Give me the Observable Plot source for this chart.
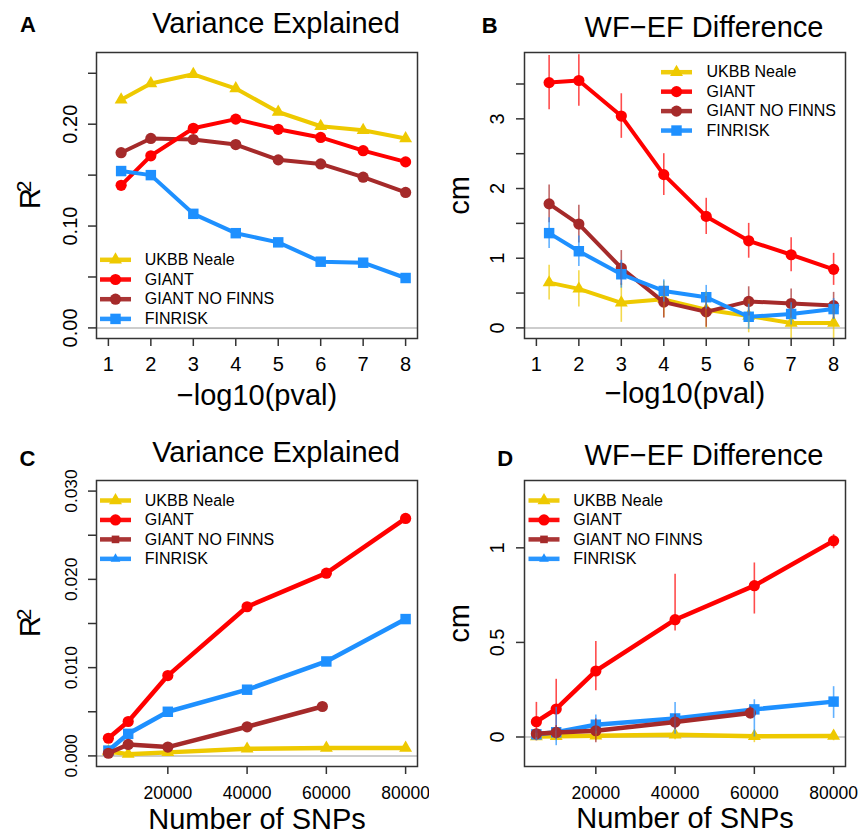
<!DOCTYPE html>
<html>
<head>
<meta charset="utf-8">
<script src="https://cdn.jsdelivr.net/npm/d3@7"></script>
<script src="https://cdn.jsdelivr.net/npm/@observablehq/plot@0.6"></script>
<style>
html, body { margin: 0; padding: 0; background: #fff; }
#fig { position: relative; width: 858px; height: 836px; font-family: "Liberation Sans", Arial, sans-serif; }
#fig > div { position: absolute; }
</style>
</head>
<body>
<div id="fig"></div>
<script>
// ---------- series ----------
const seriesNames = ["UKBB Neale", "GIANT", "GIANT NO FINNS", "FINRISK"];
const seriesColors = ["#EEC900", "#FF0000", "#A52A2A", "#1E90FF"];

// ---------- panels A & B : x = -log10(pval) ----------
const pvalCutoffs = [1.3, 2, 3, 4, 5, 6, 7, 8];
const pvalTicks = [1, 2, 3, 4, 5, 6, 7, 8];

// A: variance explained (R2)
const aUkbb      = [0.224, 0.240, 0.249, 0.235, 0.212, 0.198, 0.194, 0.186];
const aGiant     = [0.140, 0.169, 0.196, 0.205, 0.195, 0.187, 0.174, 0.163];
const aNoFinns   = [0.172, 0.186, 0.185, 0.180, 0.165, 0.161, 0.148, 0.133];
const aFinrisk   = [0.154, 0.150, 0.112, 0.093, 0.084, 0.065, 0.064, 0.049];

// B: WF-EF difference (cm) and standard errors
const bUkbb      = [0.65, 0.56, 0.36, 0.41, 0.26, 0.17, 0.07, 0.07];
const bUkbbSe    = [0.25, 0.26, 0.28, 0.26, 0.26, 0.24, 0.26, 0.26];
const bGiant     = [3.52, 3.55, 3.04, 2.20, 1.60, 1.25, 1.05, 0.84];
const bGiantSe   = [0.39, 0.37, 0.32, 0.30, 0.26, 0.25, 0.245, 0.23];
const bNoFinns   = [1.78, 1.49, 0.86, 0.37, 0.23, 0.38, 0.35, 0.32];
const bNoFinnsSe = [0.27, 0.27, 0.25, 0.23, 0.22, 0.21, 0.21, 0.19];
const bFinrisk   = [1.36, 1.10, 0.77, 0.53, 0.44, 0.16, 0.20, 0.27];
const bFinriskSe = [0.22, 0.22, 0.20, 0.16, 0.17, 0.18, 0.16, 0.15];

// ---------- panels C & D : x = number of SNPs ----------
const snpCounts = [5000, 10000, 20000, 40000, 60000, 80000];
const snpCountsNoFinns = [5000, 10000, 20000, 40000, 59000];
const snpTicks = [20000, 40000, 60000, 80000];

// C: variance explained (R2)
const cUkbb    = [0.0005, 0.0002, 0.0004, 0.0008, 0.0009, 0.0009];
const cGiant   = [0.0020, 0.0039, 0.0091, 0.0169, 0.0207, 0.0269];
const cNoFinns = [0.0003, 0.0013, 0.0010, 0.0033, 0.0056];
const cFinrisk = [0.0006, 0.0025, 0.0050, 0.0075, 0.0107, 0.0155];

// D: WF-EF difference (cm) with interval ends
const dUkbb      = [0.003, 0.004, 0.006, 0.012, 0.004, 0.005];
const dUkbbLo    = [-0.015, -0.02, -0.02, -0.015, -0.03, -0.02];
const dUkbbHi    = [0.02, 0.03, 0.03, 0.04, 0.03, 0.03];
const dGiant     = [0.081, 0.148, 0.349, 0.620, 0.800, 1.037];
const dGiantLo   = [-0.02, -0.01, 0.245, 0.56, 0.65, 0.995];
const dGiantHi   = [0.183, 0.305, 0.505, 0.86, 0.92, 1.07];
const dNoFinns   = [0.017, 0.024, 0.033, 0.079, 0.127];
const dNoFinnsLo = [-0.005, -0.01, -0.03, 0.04, 0.095];
const dNoFinnsHi = [0.04, 0.06, 0.095, 0.12, 0.16];
const dFinrisk   = [0.014, 0.025, 0.065, 0.098, 0.146, 0.187];
const dFinriskLo = [-0.02, -0.046, 0.015, 0.015, 0.0, 0.098];
const dFinriskHi = [0.04, 0.157, 0.116, 0.183, 0.197, 0.266];

// ---------- helpers ----------
function rows(si, xs, ys, lo, hi) {
  return xs.map((x, i) => ({ series: seriesNames[si], si, x, y: ys[i],
    lo: lo ? lo[i] : null, hi: hi ? hi[i] : null }));
}
function rowsSe(si, xs, ys, se) {
  return xs.map((x, i) => ({ series: seriesNames[si], si, x, y: ys[i], lo: ys[i] - se[i], hi: ys[i] + se[i] }));
}

const FONT = "Liberation Sans, Arial, Helvetica, sans-serif";

function legendBar(w, h) {
  return { draw(ctx) { ctx.rect(-w / 2, -h / 2, w, h); } };
}

function panel(cfg) {
  const m = cfg.margin;
  const marks = [];
  // zero reference line
  marks.push(Plot.ruleY([0], { stroke: "#bdbdbd", strokeWidth: 1.5 }));
  // series lines and points
  for (const si of cfg.order) {
    const d = cfg.data.filter(r => r.si === si);
    marks.push(Plot.line(d, { x: "x", y: "y", stroke: seriesColors[si], strokeWidth: cfg.lineWidth,
      strokeLinecap: "round", strokeLinejoin: "round" }));
    marks.push(Plot.dot(d, { x: "x", y: "y", symbol: cfg.symbols[si], r: cfg.radii[si], fill: seriesColors[si] }));
  }
  // error bars
  if (cfg.errors) {
    for (const si of cfg.order) {
      const d = cfg.data.filter(r => r.si === si);
      marks.push(Plot.ruleX(d, { x: "x", y1: "lo", y2: "hi", stroke: seriesColors[si], strokeOpacity: 0.7,
        strokeWidth: 1.6, clip: true }));
    }
  }
  // frame
  marks.push(Plot.frame({ stroke: "#333", strokeWidth: 1.5 }));
  // axes (tick lines)
  marks.push(Plot.axisX({ ticks: cfg.xTicks, tickSize: 8, tickFormat: () => "", label: null, stroke: "#333", strokeWidth: 1.5 }));
  marks.push(Plot.axisY({ ticks: cfg.yTicks, tickSize: 8, tickFormat: () => "", label: null, stroke: "#333", strokeWidth: 1.5 }));
  // tick labels
  marks.push(Plot.text(cfg.xTicks, { x: d => d, frameAnchor: "bottom", dy: 32, lineAnchor: "bottom",
    text: d => String(d), fontSize: cfg.xTickFont, fill: "#000" }));
  marks.push(Plot.text(cfg.yLabels, { y: d => d, frameAnchor: "left", dx: cfg.yTickDx, rotate: -90,
    lineAnchor: "bottom", textAnchor: "middle", text: cfg.yFmt, fontSize: cfg.yTickFont, fill: "#000" }));
  // axis titles
  marks.push(Plot.text([cfg.xTitle], { frameAnchor: "bottom", dy: cfg.xTitleDy, lineAnchor: "bottom",
    text: d => d, fontSize: 29, fill: "#000" }));
  if (cfg.yTitleSup) {
    marks.push(Plot.text([cfg.yTitle], { frameAnchor: "left", dx: cfg.yTitleDx, dy: 3, rotate: -90, lineAnchor: "bottom",
      textAnchor: "middle", text: d => d, fontSize: 29, fill: "#000" }));
    marks.push(Plot.text([cfg.yTitleSup], { frameAnchor: "left", dx: cfg.yTitleDx - 9, dy: -9, rotate: -90, lineAnchor: "bottom",
      textAnchor: "middle", text: d => d, fontSize: 21, fill: "#000" }));
  } else {
    marks.push(Plot.text([cfg.yTitle], { frameAnchor: "left", dx: cfg.yTitleDx, rotate: -90, lineAnchor: "bottom",
      textAnchor: "middle", text: d => d, fontSize: 29, fill: "#000" }));
  }
  // title and panel letter
  marks.push(Plot.text([cfg.title], { frameAnchor: "top-left", dx: cfg.titleDx, dy: cfg.titleDy,
    lineAnchor: "bottom", textAnchor: "middle", text: d => d, fontSize: 29, fill: "#000" }));
  marks.push(Plot.text([cfg.letter], { frameAnchor: "top-left", dx: cfg.letterDx, dy: cfg.letterDy,
    lineAnchor: "bottom", textAnchor: "middle", text: d => d, fontSize: 22, fontWeight: "bold", fill: "#000" }));
  // legend
  const L = cfg.legend;
  seriesNames.forEach((name, i) => {
    const dy = L.dy + i * L.step;
    marks.push(Plot.dot([name], { frameAnchor: "top-left", dx: L.dx, dy, symbol: legendBar(31, 4.5),
      fill: seriesColors[i], fillOpacity: 0.95 }));
    marks.push(Plot.dot([name], { frameAnchor: "top-left", dx: L.dx, dy, symbol: L.symbols[i], r: L.radii[i],
      fill: seriesColors[i] }));
    marks.push(Plot.text([name], { frameAnchor: "top-left", dx: L.textDx, dy, textAnchor: "start",
      lineAnchor: "middle", text: d => d, fontSize: 16, fill: "#000" }));
  });

  const chart = Plot.plot({
    width: cfg.width, height: cfg.height,
    marginTop: m.top, marginRight: m.right, marginBottom: m.bottom, marginLeft: m.left,
    x: { type: "linear", domain: cfg.xDomain },
    y: { type: "linear", domain: cfg.yDomain },
    style: { fontFamily: FONT, background: "white", overflow: "visible" },
    marks
  });
  const holder = document.createElement("div");
  holder.style.left = cfg.left + "px";
  holder.style.top = cfg.top + "px";
  holder.appendChild(chart);
  document.getElementById("fig").appendChild(holder);
}

const symAB = ["triangle", "circle", "circle", "square"];
const radAB = [4.8, 5.6, 5.6, 5.9];
const legendSymCD = ["triangle", "circle", "square", "triangle"];
const legendRadCD = [4.8, 5.6, 4.3, 3.6];

// A
panel({
  left: 0, top: 0, width: 429, height: 418,
  margin: { top: 52, right: 12, bottom: 80, left: 96 },
  xDomain: [0.72, 8.28], yDomain: [-0.0104, 0.2704],
  xTicks: pvalTicks, xTickFont: 20,
  yTicks: [0, 0.05, 0.1, 0.15, 0.2, 0.25], yLabels: [0, 0.1, 0.2], yFmt: d3.format(".2f"), yTickFont: 20, yTickDx: -20,
  data: [rows(0, pvalCutoffs, aUkbb), rows(1, pvalCutoffs, aGiant), rows(2, pvalCutoffs, aNoFinns), rows(3, pvalCutoffs, aFinrisk)].flat(),
  order: [0, 2, 1, 3], symbols: symAB, radii: radAB, lineWidth: 4, errors: false,
  xTitle: "\u2212log10(pval)", xTitleDy: 66, yTitle: "R", yTitleSup: "2", yTitleDx: -57,
  title: "Variance Explained", titleDx: 179.5, titleDy: -19.3,
  letter: "A", letterDx: -68.5, letterDy: -20.3,
  legend: { dx: 19, dy: 207.3, step: 19.7, textDx: 48.3, symbols: symAB, radii: radAB }
});

// B
panel({
  left: 429, top: 0, width: 429, height: 418,
  margin: { top: 52, right: 13, bottom: 80, left: 95 },
  xDomain: [0.72, 8.28], yDomain: [-0.152, 3.952],
  xTicks: pvalTicks, xTickFont: 20,
  yTicks: [0, 0.5, 1, 1.5, 2, 2.5, 3, 3.5], yLabels: [0, 1, 2, 3], yFmt: d => String(d), yTickFont: 20, yTickDx: -20.5,
  data: [rowsSe(0, pvalCutoffs, bUkbb, bUkbbSe), rowsSe(1, pvalCutoffs, bGiant, bGiantSe),
         rowsSe(2, pvalCutoffs, bNoFinns, bNoFinnsSe), rowsSe(3, pvalCutoffs, bFinrisk, bFinriskSe)].flat(),
  order: [0, 1, 2, 3], symbols: symAB, radii: radAB, lineWidth: 4, errors: true,
  xTitle: "\u2212log10(pval)", xTitleDy: 64, yTitle: "cm", yTitleDx: -55.7,
  title: "WF\u2212EF Difference", titleDx: 179.5, titleDy: -16,
  letter: "B", letterDx: -34.8, letterDy: -19.7,
  legend: { dx: 152, dy: 19.7, step: 19.45, textDx: 182, symbols: symAB, radii: radAB }
});

// C
panel({
  left: 0, top: 418, width: 429, height: 418,
  margin: { top: 62, right: 12, bottom: 70, left: 96 },
  xDomain: [2000, 83000], yDomain: [-0.0012, 0.0312],
  xTicks: snpTicks, xTickFont: 17.5,
  yTicks: [0, 0.005, 0.01, 0.015, 0.02, 0.025, 0.03], yLabels: [0, 0.01, 0.02, 0.03], yFmt: d3.format(".3f"), yTickFont: 17.3, yTickDx: -19.3,
  data: [rows(0, snpCounts, cUkbb), rows(1, snpCounts, cGiant), rows(2, snpCountsNoFinns, cNoFinns), rows(3, snpCounts, cFinrisk)].flat(),
  order: [0, 1, 3, 2], symbols: symAB, radii: radAB, lineWidth: 4.5, errors: false,
  xTitle: "Number of SNPs", xTitleDy: 62, yTitle: "R", yTitleSup: "2", yTitleDx: -57,
  title: "Variance Explained", titleDx: 179.5, titleDy: -18.3,
  letter: "C", letterDx: -69, letterDy: -15,
  legend: { dx: 19, dy: 20, step: 19.45, textDx: 48.3, symbols: legendSymCD, radii: legendRadCD }
});

// D
panel({
  left: 429, top: 418, width: 429, height: 418,
  margin: { top: 62, right: 13, bottom: 70, left: 95 },
  xDomain: [2000, 83000], yDomain: [-0.156, 1.356],
  xTicks: snpTicks, xTickFont: 17.5,
  yTicks: [0, 0.5, 1], yLabels: [0, 0.5, 1], yFmt: d => String(d), yTickFont: 20, yTickDx: -21,
  data: [rows(0, snpCounts, dUkbb, dUkbbLo, dUkbbHi), rows(1, snpCounts, dGiant, dGiantLo, dGiantHi),
         rows(2, snpCountsNoFinns, dNoFinns, dNoFinnsLo, dNoFinnsHi), rows(3, snpCounts, dFinrisk, dFinriskLo, dFinriskHi)].flat(),
  order: [0, 1, 3, 2], symbols: symAB, radii: radAB, lineWidth: 4.5, errors: true,
  xTitle: "Number of SNPs", xTitleDy: 61, yTitle: "cm", yTitleDx: -55.7,
  title: "WF\u2212EF Difference", titleDx: 179.5, titleDy: -15.7,
  letter: "D", letterDx: -19.3, letterDy: -15,
  legend: { dx: 19.5, dy: 20, step: 19.45, textDx: 48.7, symbols: legendSymCD, radii: legendRadCD }
});
</script>
</body>
</html>
